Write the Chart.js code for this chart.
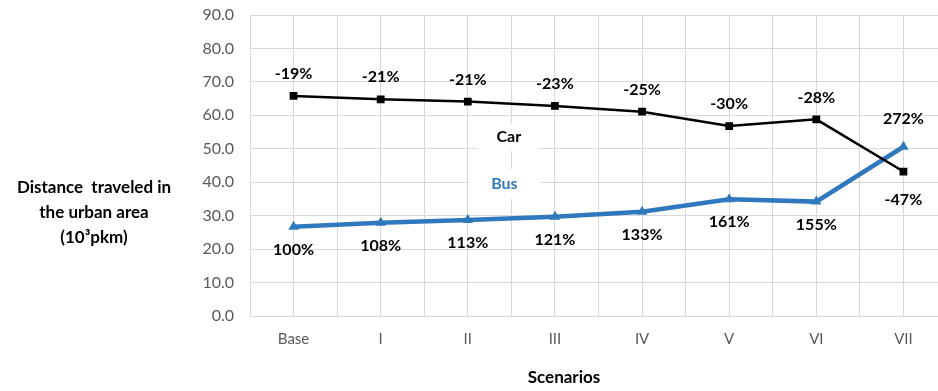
<!DOCTYPE html>
<html>
<head>
<meta charset="utf-8">
<script src="https://cdn.jsdelivr.net/npm/chart.js@4/dist/chart.umd.min.js"></script>
<style>
  html, body { margin: 0; padding: 0; background: #fff; overflow: hidden; }
  #wrap { width: 953px; height: 391px; }
</style>
</head>
<body>
<div id="wrap"><canvas id="distChart"></canvas></div>
<script>
// Escenarios y distancias (10^3 pkm)
const scenarios = ['Base', 'I', 'II', 'III', 'IV', 'V', 'VI', 'VII'];
const carValues = [65.8, 64.8, 64.1, 62.8, 61.1, 56.8, 58.8, 43.2];
const busValues = [26.7, 27.9, 28.7, 29.7, 31.2, 34.9, 34.2, 50.6];
const carChange = ['-19%', '-21%', '-21%', '-23%', '-25%', '-30%', '-28%', '-47%'];
const busChange = ['100%', '108%', '113%', '121%', '133%', '161%', '155%', '272%'];
const yTitle = ['Distance  traveled in', 'the urban area', '(10³pkm)'];
const xTitle = 'Scenarios';

const BLUE = '#2F78BE';
const TXT = '#595959';

// Etiquetas de porcentaje, nombres de serie y títulos de ejes
const labelsPlugin = {
    id: 'labelsPlugin',
    afterDatasetsDraw(chart) {
        const ctx = chart.ctx;
        const car = chart.getDatasetMeta(0).data;
        const bus = chart.getDatasetMeta(1).data;
        ctx.save();
        ctx.font = 'bold 16px Lato';
        ctx.fillStyle = '#000';
        ctx.textAlign = 'center';
        ctx.textBaseline = 'middle';
        for (let i = 0; i < scenarios.length; i++) {
            const carUp = carValues[i] >= busValues[i];
            ctx.fillText(carChange[i], car[i].x, car[i].y + (carUp ? -22 : 28));
            ctx.fillText(busChange[i], bus[i].x, bus[i].y + (carUp ? 23 : -28));
        }

        // Nombres de serie con fondo blanco
        const xs = chart.scales.x;
        const ys = chart.scales.y;
        const names = [
            { text: 'Car', color: '#000', x: 2.47, y: 53.5, w: 60, h: 28 },
            { text: 'Bus', color: BLUE, x: 2.42, y: 39.5, w: 72, h: 30 }
        ];
        names.forEach(n => {
            const px = xs.getPixelForValue(n.x);
            const py = ys.getPixelForValue(n.y);
            ctx.fillStyle = '#fff';
            ctx.fillRect(px - n.w / 2, py - n.h / 2, n.w, n.h);
            ctx.fillStyle = n.color;
            ctx.fillText(n.text, px, py);
        });

        // Título del eje Y (horizontal, tres líneas)
        ctx.fillStyle = '#000';
        ctx.font = 'bold 17px Lato';
        yTitle.forEach((t, k) => ctx.fillText(t, 94, 188 + k * 25));

        // Título del eje X
        ctx.fillText(xTitle, 564, 378);
        ctx.restore();
    }
};

const ctx = document.getElementById('distChart').getContext('2d');
const chart = new Chart(ctx, {
    type: 'line',
    data: {
        labels: scenarios,
        datasets: [
            {
                label: 'Car',
                data: carValues,
                borderColor: '#000',
                backgroundColor: '#000',
                borderWidth: 2.5,
                pointStyle: 'rect',
                pointRadius: 5.5,
                pointBorderWidth: 0,
                tension: 0
            },
            {
                label: 'Bus',
                data: busValues,
                borderColor: BLUE,
                backgroundColor: BLUE,
                borderWidth: 4.5,
                pointStyle: 'triangle',
                pointRadius: 6,
                pointBorderWidth: 0,
                tension: 0
            }
        ]
    },
    options: {
        responsive: true,
        maintainAspectRatio: false,
        animation: false,
        layout: { padding: { top: 15, right: 2, bottom: 0, left: 0 } },
        plugins: {
            legend: { display: false },
            tooltip: { enabled: false }
        },
        scales: {
            x: {
                type: 'category',
                offset: true,
                grid: { offset: false, color: '#D9D9D9', drawTicks: false },
                border: { display: false },
                ticks: { color: TXT, font: { family: 'Lato', size: 15 }, padding: 14, maxRotation: 0 },
                afterFit(scale) { scale.height = 75; }
            },
            x2: {
                type: 'category',
                labels: scenarios,
                position: 'bottom',
                offset: true,
                grid: { offset: true, color: '#D9D9D9', drawTicks: false },
                border: { display: false },
                ticks: { display: false },
                afterFit(scale) { scale.height = 0; }
            },
            y: {
                min: 0,
                max: 90,
                grid: { color: '#D9D9D9', drawTicks: false },
                border: { display: false },
                ticks: {
                    stepSize: 10,
                    color: TXT,
                    font: { family: 'Lato', size: 16 },
                    padding: 16,
                    callback: v => v.toFixed(1)
                },
                afterFit(scale) {
                    scale.width = 250;
                    scale.paddingTop = 0;
                    scale.paddingBottom = 0;
                }
            }
        }
    },
    plugins: [labelsPlugin]
});
</script>
</body>
</html>
